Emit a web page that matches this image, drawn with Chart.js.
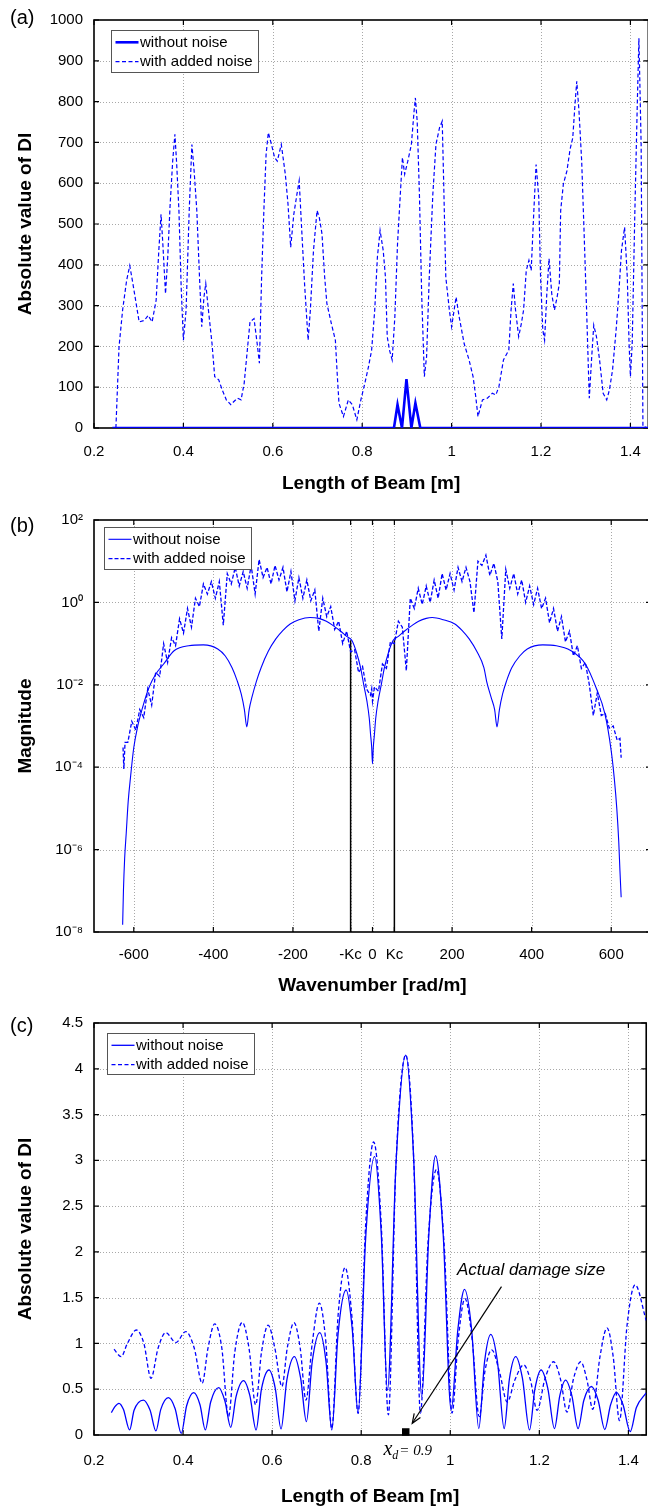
<!DOCTYPE html>
<html>
<head>
<meta charset="utf-8">
<script src="https://cdn.jsdelivr.net/npm/chart.js@4.4.0/dist/chart.umd.min.js"></script>
<style>
html, body { margin: 0; padding: 0; background: #fff; overflow: hidden; width: 648px; height: 1510px; }
.panel { position: absolute; left: 0; }
canvas { display: block; }
</style>
</head>
<body>
<div class="panel" style="top:0px"><canvas id="chartA" width="656" height="500" style="width:656px;height:500px"></canvas></div>
<div class="panel" style="top:500px"><canvas id="chartB" width="656" height="500" style="width:656px;height:500px"></canvas></div>
<div class="panel" style="top:1000px"><canvas id="chartC" width="656" height="510" style="width:656px;height:510px"></canvas></div>
<script>
// ---------------- DATA ----------------
const seriesNames = ['without noise', 'with added noise'];

// Panel (a): damage index vs beam length
const beamTicks = [0.2, 0.4, 0.6, 0.8, 1, 1.2, 1.4];
const beamTickLabels = ['0.2', '0.4', '0.6', '0.8', '1', '1.2', '1.4'];
const diTicksA = [0, 100, 200, 300, 400, 500, 600, 700, 800, 900, 1000];
const diTickLabelsA = ['0', '100', '200', '300', '400', '500', '600', '700', '800', '900', '1000'];

const beamXA_clean = [0.241, 0.871, 0.879, 0.889, 0.899, 0.91, 0.919, 0.93, 1.44];
const diA_clean = [0, 0, 57, 0, 120, 0, 61, 0, 0];

const beamXA_noisy = [0.249,0.256,0.264,0.273,0.28,0.287,0.301,0.313,0.321,0.33,
0.339,0.345,0.35,0.354,0.36,0.365,0.37,0.376,0.381,0.385,
0.39,0.395,0.4,0.406,0.413,0.419,0.424,0.43,0.436,0.441,
0.446,0.45,0.456,0.464,0.47,0.479,0.487,0.496,0.506,0.513,
0.521,0.529,0.536,0.543,0.549,0.558,0.565,0.57,0.575,0.58,
0.585,0.59,0.597,0.604,0.61,0.619,0.628,0.634,0.64,0.647,
0.654,0.659,0.664,0.671,0.679,0.684,0.691,0.699,0.704,0.71,
0.716,0.721,0.731,0.74,0.744,0.748,0.758,0.769,0.778,0.788,
0.797,0.806,0.814,0.821,0.828,0.834,0.84,0.847,0.852,0.856,
0.861,0.867,0.873,0.879,0.884,0.89,0.895,0.902,0.91,0.916,
0.919,0.923,0.928,0.933,0.939,0.944,0.95,0.958,0.965,0.973,
0.979,0.982,0.987,0.995,1.0,1.01,1.017,1.028,1.039,1.048,
1.054,1.059,1.069,1.08,1.091,1.099,1.106,1.116,1.128,1.133,
1.138,1.143,1.15,1.156,1.161,1.167,1.173,1.178,1.184,1.189,
1.195,1.199,1.204,1.208,1.213,1.218,1.224,1.23,1.236,1.241,
1.244,1.25,1.258,1.265,1.271,1.276,1.28,1.285,1.291,1.296,
1.302,1.308,1.313,1.318,1.324,1.331,1.339,1.347,1.353,1.36,
1.368,1.374,1.38,1.387,1.393,1.397,1.4,1.404,1.41,1.415,
1.419,1.424,1.428,1.44];
const diA_noisy = [0,199,289,362,398,354,260,264,276,260,
313,435,524,451,329,419,541,654,720,646,
533,346,215,289,533,695,630,533,370,248,
321,354,289,207,126,118,93,69,57,65,
73,69,110,191,260,268,207,159,370,533,
671,724,695,663,654,695,622,549,443,524,
573,606,500,354,215,289,435,533,516,476,
370,305,256,215,134,61,28,69,57,20,
69,110,150,190,289,419,484,435,370,224,
191,167,272,451,549,663,622,654,695,776,
809,752,573,329,126,175,370,573,695,736,
752,614,370,289,248,321,272,207,167,126,
77,28,69,73,85,81,102,167,191,289,
354,289,224,256,289,386,411,386,533,646,
565,370,240,215,329,415,329,289,321,354,
533,598,630,683,711,793,850,776,654,492,
289,73,167,252,224,167,85,69,93,142,
240,329,435,492,370,207,126,207,533,776,
955,695,4,0];

// Panel (b): wavenumber spectrum
const waveTicks = [-600, -400, -200, -55, 0, 55, 200, 400, 600];
const waveTickLabels = ['-600', '-400', '-200', '-Kc', '0', 'Kc', '200', '400', '600'];
const magTicks = [1e-8, 1e-6, 1e-4, 1e-2, 1, 1e2];
const magTickLabels = ['10\u207B\u2078', '10\u207B\u2076', '10\u207B\u2074', '10\u207B\u00B2', '10\u2070', '10\u00B2'];

const waveX_clean = [-628,-626,-623,-619,-614,-608,-600,-590,-578,-562,-545,-525,-498,-462,-425,-389,-370,-353,-340,-330,-322,-316,-310,-303,-292,-280,-262,-243,-225,-207,-185,-157,-135,-116,-98,-80,-65,-52,-40,-30,-22,-14,-8,-5,-2,0,
2,5,8,14,22,30,40,52,65,80,98,116,135,150,178,207,225,243,262,280,287,298,307,313,319,327,337,350,370,389,428,462,498,535,562,584,600,608,614,619,622,625];
const mag_clean = [1.5e-8,1e-7,6e-7,2.5e-6,1.5e-5,6e-5,3e-4,1e-3,2.8e-3,8.5e-3,0.018,0.032,0.068,0.089,0.093,0.074,0.05,0.026,0.0125,6e-3,2.5e-3,9.5e-4,2.5e-3,5e-3,0.012,0.026,0.065,0.13,0.21,0.3,0.38,0.43,0.41,0.35,0.27,0.2,0.15,0.12,0.06,0.026,0.01,4e-3,1.5e-3,6.5e-4,3e-4,1.2e-4,
3e-4,6.5e-4,1.5e-3,4e-3,0.01,0.026,0.06,0.12,0.15,0.2,0.27,0.35,0.41,0.43,0.38,0.3,0.21,0.13,0.065,0.026,0.012,5e-3,2.5e-3,9.5e-4,2.5e-3,6e-3,0.0125,0.026,0.05,0.074,0.093,0.089,0.068,0.032,8.5e-3,2e-3,2.5e-4,5e-5,1e-5,1.5e-6,3e-7,7e-8];

const waveX_noisy = [-627,-625,-622,-615,-605,-595,-585,-575,-565,-555,-545,-535,-525,-515,-505,-495,-485,-475,-465,-455,-445,-435,-425,-415,-405,-395,-385,-375,-365,-355,-345,-335,-325,-315,-305,-295,-285,-275,-265,-255,-245,-235,-225,-215,-205,-195,-185,-175,-165,-155,-145,-135,-125,-115,-105,-95,-85,-75,-65,-55,-45,-35,-25,-15,-5,-2,0,
5,15,25,35,45,55,65,75,85,95,105,115,125,135,145,155,165,175,185,195,205,215,225,235,245,255,265,275,285,295,305,315,325,335,345,355,365,375,385,395,405,415,425,435,445,455,465,475,485,495,505,515,525,535,545,555,565,575,585,595,605,615,622,625];
const mag_noisy = [3e-4,9e-5,4e-4,4e-4,1.3e-3,8e-4,2.5e-3,1.6e-3,7.9e-3,3.2e-3,0.02,0.016,0.1,0.035,0.14,0.089,0.4,0.18,0.71,0.25,1.26,0.79,2.8,1.6,3.2,1.26,3.2,0.28,5,2.8,7.1,2.5,5.6,2.2,7.9,1.6,11,4,7.1,2.8,7.9,3.5,7.1,1.8,5.6,1.1,4,1.26,3.5,1.1,2,0.2,1.26,0.45,0.79,0.22,0.35,0.1,0.2,0.063,0.071,0.02,0.028,7.9e-3,5.6e-3,8e-3,4e-3,
8.9e-3,7e-3,0.032,0.025,0.11,0.1,0.35,0.25,0.022,1.26,0.71,2.2,0.89,2.5,1.0,3.5,1.26,5,2,5,2,7.1,3.2,7.1,3.2,0.56,10,7.9,14,4.5,8.9,3.2,0.13,6.3,2.2,5,1.6,3.5,1,2.5,0.89,2.2,0.71,1.26,0.32,0.71,0.2,0.45,0.11,0.2,0.05,0.089,0.025,0.035,0.01,1.8e-3,6.3e-3,1.8e-3,2e-3,8.9e-4,1e-3,4.5e-4,5e-4,1.7e-4];

// cut-off wavenumber window edges (-Kc, Kc)
const kcX = [-55, -55, 0, 55, 55];
const kcMag = [1e-8, 0.12, null, 0.12, 1e-8];

// Panel (c): filtered damage index
const diTicksC = [0, 0.5, 1, 1.5, 2, 2.5, 3, 3.5, 4, 4.5];
const diTickLabelsC = ['0', '0.5', '1', '1.5', '2', '2.5', '3', '3.5', '4', '4.5'];

const beamXC_clean = [0.239,0.247,0.256,0.266,0.28,0.29,0.311,0.326,0.339,0.35,
0.367,0.382,0.396,0.408,0.424,0.438,0.45,0.462,0.48,0.494,
0.507,0.519,0.536,0.55,0.564,0.576,0.593,0.607,0.62,0.633,
0.65,0.664,0.677,0.69,0.707,0.721,0.734,0.748,0.766,0.78,
0.793,0.81,0.83,0.845,0.859,0.878,0.9,0.918,0.936,0.952,
0.967,0.984,1.002,1.017,1.032,1.048,1.064,1.077,1.091,1.106,
1.121,1.133,1.147,1.162,1.178,1.19,1.204,1.219,1.234,1.246,
1.259,1.273,1.287,1.3,1.317,1.332,1.347,1.36,1.373,1.388,
1.404,1.418,1.44];
const diC_clean = [0.244,0.31,0.346,0.28,0.055,0.27,0.382,0.27,0.044,0.28,
0.408,0.29,0.018,0.32,0.462,0.33,0.055,0.36,0.517,0.37,
0.084,0.42,0.594,0.43,0.055,0.5,0.71,0.51,0.066,0.6,
0.856,0.62,0.146,0.8,1.118,0.8,0.055,1.1,1.584,1.15,
0.237,2.15,3.04,2.2,0.49,2.95,4.15,3.0,0.42,2.2,
3.05,2.2,0.27,1.15,1.59,1.15,0.07,0.8,1.1,0.8,
0.07,0.62,0.856,0.62,0.055,0.5,0.71,0.51,0.07,0.43,
0.6,0.43,0.07,0.38,0.53,0.38,0.06,0.33,0.466,0.33,
0.036,0.3,0.46];

const beamXC_noisy = [0.245,0.261,0.275,0.295,0.312,0.328,0.344,0.361,0.384,0.406,
0.425,0.443,0.456,0.471,0.487,0.502,0.516,0.533,0.548,0.563,
0.576,0.591,0.606,0.622,0.634,0.649,0.663,0.676,0.69,0.706,
0.72,0.734,0.748,0.764,0.779,0.793,0.81,0.828,0.845,0.861,
0.878,0.9,0.918,0.933,0.95,0.969,0.986,1.004,1.018,1.033,
1.049,1.065,1.078,1.093,1.11,1.128,1.145,1.165,1.18,1.195,
1.213,1.232,1.248,1.262,1.277,1.293,1.307,1.32,1.336,1.352,
1.366,1.38,1.397,1.415,1.44];
const diC_noisy = [0.936,0.856,1.0,1.147,1.0,0.62,0.95,1.118,1.01,1.13,
0.95,0.565,0.95,1.213,0.95,0.2,0.9,1.23,0.95,0.33,
0.9,1.2,0.95,0.53,0.95,1.227,0.95,0.38,1.0,1.44,
1.05,0.07,1.3,1.83,1.3,0.237,2.3,3.2,2.3,0.22,
2.95,4.15,3.0,0.24,2.1,2.9,2.1,0.24,1.05,1.49,
1.05,0.2,0.7,0.93,0.7,0.36,0.6,0.765,0.6,0.27,
0.62,0.8,0.6,0.25,0.62,0.8,0.6,0.28,0.85,1.17,
0.85,0.157,1.2,1.64,1.25];

const damageX = [0.9];
const damageY = [0.033];
const damageText = 'Actual damage size';

// ---------------- STYLE / HELPERS ----------------
const BLUE = '#0000ff';
const SANS = "'Liberation Sans', Arial, Helvetica, sans-serif";
const SERIF = "'Liberation Serif', 'Times New Roman', serif";
Chart.defaults.font.family = SANS;
Chart.defaults.font.size = 15;
Chart.defaults.color = '#000';

function xy(xs, ys) { return xs.map((x, i) => ({ x: x, y: ys[i] })); }
function fixedTicks(values) { return function (scale) { scale.ticks = values.map(v => ({ value: v })); }; }

const matlabAxes = {
  id: 'matlabAxes',
  beforeDatasetsDraw(chart, args, o) {
    const { ctx, chartArea: a } = chart;
    const xs = chart.scales.x, ys = chart.scales.y;
    ctx.save();
    // dotted grid
    ctx.strokeStyle = '#a8a8a8';
    ctx.lineWidth = 1;
    ctx.setLineDash([1, 2]);
    xs.ticks.forEach(t => {
      const p = Math.round(xs.getPixelForValue(t.value)) + 0.5;
      if (p > a.left + 1 && p < a.right - 1) {
        ctx.beginPath(); ctx.moveTo(p, a.top); ctx.lineTo(p, a.bottom); ctx.stroke();
      }
    });
    ys.ticks.forEach(t => {
      const p = Math.round(ys.getPixelForValue(t.value)) + 0.5;
      if (p > a.top + 1 && p < a.bottom - 1) {
        ctx.beginPath(); ctx.moveTo(a.left, p); ctx.lineTo(a.right, p); ctx.stroke();
      }
    });
    ctx.setLineDash([]);
    // frame
    ctx.strokeStyle = '#000';
    ctx.lineWidth = 1.6;
    ctx.strokeRect(a.left, a.top, a.right - a.left, a.bottom - a.top);
    // inward ticks
    ctx.lineWidth = 1.2;
    const tl = 5;
    ctx.beginPath();
    xs.ticks.forEach(t => {
      const p = xs.getPixelForValue(t.value);
      ctx.moveTo(p, a.bottom); ctx.lineTo(p, a.bottom - tl);
      ctx.moveTo(p, a.top); ctx.lineTo(p, a.top + tl);
    });
    ys.ticks.forEach(t => {
      const p = ys.getPixelForValue(t.value);
      ctx.moveTo(a.left, p); ctx.lineTo(a.left + tl, p);
      ctx.moveTo(a.right, p); ctx.lineTo(a.right - tl, p);
    });
    ctx.stroke();
    ctx.restore();
  },
  afterDatasetsDraw(chart, args, o) {
    const { ctx, chartArea: a } = chart;
    ctx.save();
    // legend box
    const lb = o.legendBox;
    const L = Math.round(a.left + lb.dx) + 0.5, T = Math.round(a.top + lb.dy) + 0.5;
    ctx.fillStyle = '#fff';
    ctx.fillRect(L, T, lb.w, lb.h);
    ctx.strokeStyle = '#555';
    ctx.lineWidth = 1;
    ctx.strokeRect(L, T, lb.w, lb.h);
    chart.data.datasets.slice(0, 2).forEach((ds, i) => {
      const cy = T + 11.8 + i * 19.3;
      ctx.strokeStyle = ds.borderColor;
      ctx.lineWidth = ds.borderWidth;
      ctx.setLineDash(ds.borderDash || []);
      ctx.beginPath(); ctx.moveTo(L + 4, cy); ctx.lineTo(L + 27, cy); ctx.stroke();
      ctx.setLineDash([]);
      ctx.fillStyle = '#000';
      ctx.font = '15px ' + SANS;
      ctx.textAlign = 'left';
      ctx.textBaseline = 'middle';
      ctx.fillText(ds.label, L + 28.5, cy + 0.5);
    });
    // axis titles
    ctx.fillStyle = '#000';
    ctx.font = 'bold 19px ' + SANS;
    ctx.textAlign = 'center';
    ctx.textBaseline = 'middle';
    ctx.fillText(o.xTitle, (a.left + a.right) / 2, a.bottom + o.xTitleDy);
    ctx.save();
    ctx.translate(26, (a.top + a.bottom) / 2);
    ctx.rotate(-Math.PI / 2);
    ctx.fillText(o.yTitle, 0, 0);
    ctx.restore();
    // panel label
    ctx.font = '20px ' + SANS;
    ctx.textAlign = 'left';
    ctx.fillText(o.panel, 10, o.panelY);
    ctx.restore();
  }
};

function baseOptions(extra) {
  return Object.assign({
    responsive: false,
    animation: false,
    devicePixelRatio: 1,
    events: [],
    elements: { point: { radius: 0 }, line: { tension: 0 } },
  }, extra);
}

// ---------------- PANEL (a) ----------------
new Chart(document.getElementById('chartA'), {
  type: 'line',
  data: {
    datasets: [
      { label: seriesNames[0], data: xy(beamXA_clean, diA_clean), borderColor: BLUE, borderWidth: 2.6, pointRadius: 0 },
      { label: seriesNames[1], data: xy(beamXA_noisy, diA_noisy), borderColor: BLUE, borderWidth: 1.2, borderDash: [4, 2.5], pointRadius: 0 }
    ]
  },
  options: baseOptions({
    layout: { padding: { top: 18, right: 5, bottom: 0, left: 0 } },
    scales: {
      x: {
        type: 'linear', min: 0.2, max: 1.44,
        afterBuildTicks: fixedTicks(beamTicks),
        afterFit: s => { s.height = 72; },
        grid: { display: false, drawTicks: false }, border: { display: false },
        ticks: { autoSkip: false, maxRotation: 0, padding: 15, callback: (v, i) => beamTickLabels[i] }
      },
      y: {
        type: 'linear', min: 0, max: 1000,
        afterBuildTicks: fixedTicks(diTicksA),
        afterFit: s => { s.width = 94; },
        grid: { display: false, drawTicks: false }, border: { display: false },
        ticks: { autoSkip: false, padding: 11, callback: (v, i) => diTickLabelsA[i] }
      }
    },
    plugins: {
      legend: { display: false }, tooltip: { enabled: false },
      matlabAxes: { legendBox: { dx: 17, dy: 10, w: 147, h: 42 }, xTitle: 'Length of Beam [m]', yTitle: 'Absolute value of DI', xTitleDy: 56, panel: '(a)', panelY: 18 }
    }
  }),
  plugins: [matlabAxes]
});

// ---------------- PANEL (b) ----------------
new Chart(document.getElementById('chartB'), {
  type: 'line',
  data: {
    datasets: [
      { label: seriesNames[0], data: xy(waveX_clean, mag_clean), borderColor: BLUE, borderWidth: 1.1, pointRadius: 0, cubicInterpolationMode: 'monotone' },
      { label: seriesNames[1], data: xy(waveX_noisy, mag_noisy), borderColor: BLUE, borderWidth: 1.3, borderDash: [4, 2], pointRadius: 0 },
      { label: 'Kc window', data: xy(kcX, kcMag), borderColor: '#000', borderWidth: 1.5, pointRadius: 0, spanGaps: false }
    ]
  },
  options: baseOptions({
    layout: { padding: { top: 19, right: 5, bottom: 0, left: 0 } },
    scales: {
      x: {
        type: 'linear', min: -700, max: 700,
        afterBuildTicks: fixedTicks(waveTicks),
        afterFit: s => { s.height = 68; },
        grid: { display: false, drawTicks: false }, border: { display: false },
        ticks: { autoSkip: false, maxRotation: 0, padding: 14, callback: (v, i) => waveTickLabels[i] }
      },
      y: {
        type: 'logarithmic', min: 1e-8, max: 1e2,
        afterBuildTicks: fixedTicks(magTicks),
        afterFit: s => { s.width = 94; },
        grid: { display: false, drawTicks: false }, border: { display: false },
        ticks: { autoSkip: false, padding: 11, callback: (v, i) => magTickLabels[i] }
      }
    },
    plugins: {
      legend: { display: false }, tooltip: { enabled: false },
      matlabAxes: { legendBox: { dx: 9.5, dy: 7, w: 147, h: 42 }, xTitle: 'Wavenumber [rad/m]', yTitle: 'Magnitude', xTitleDy: 54, panel: '(b)', panelY: 26 }
    }
  }),
  plugins: [matlabAxes]
});

// ---------------- PANEL (c) ----------------
const damageAnnot = {
  id: 'damageAnnot',
  afterDatasetsDraw(chart) {
    const { ctx, chartArea: a } = chart;
    const xs = chart.scales.x, ys = chart.scales.y;
    ctx.save();
    // arrow from label to damage location
    const x1 = xs.getPixelForValue(1.115), y1 = ys.getPixelForValue(1.62);
    const x2 = xs.getPixelForValue(0.9146), y2 = ys.getPixelForValue(0.128);
    ctx.strokeStyle = '#000';
    ctx.lineWidth = 1.2;
    ctx.beginPath(); ctx.moveTo(x1, y1); ctx.lineTo(x2, y2); ctx.stroke();
    const ang = Math.atan2(y2 - y1, x2 - x1);
    const hl = 10, ha = 0.38;
    ctx.beginPath();
    ctx.moveTo(x2 - hl * Math.cos(ang - ha), y2 - hl * Math.sin(ang - ha));
    ctx.lineTo(x2, y2);
    ctx.lineTo(x2 - hl * Math.cos(ang + ha), y2 - hl * Math.sin(ang + ha));
    ctx.stroke();
    // label text
    ctx.fillStyle = '#000';
    ctx.font = 'italic 17px ' + SANS;
    ctx.textAlign = 'left';
    ctx.textBaseline = 'alphabetic';
    ctx.fillText(damageText, xs.getPixelForValue(1.015), ys.getPixelForValue(1.747));
    // x_d = 0.9 label under the axis
    const bx = xs.getPixelForValue(0.85), by = a.bottom + 20;
    ctx.font = 'italic 20px ' + SERIF;
    ctx.fillText('x', bx, by);
    let w = ctx.measureText('x').width;
    ctx.font = 'italic 12px ' + SERIF;
    ctx.fillText('d', bx + w, by + 4);
    w += ctx.measureText('d').width + 1;
    ctx.font = 'italic 15px ' + SERIF;
    ctx.fillText('= 0.9', bx + w, by);
    ctx.restore();
  }
};

new Chart(document.getElementById('chartC'), {
  type: 'line',
  data: {
    datasets: [
      { label: seriesNames[0], data: xy(beamXC_clean, diC_clean), borderColor: BLUE, borderWidth: 1.3, pointRadius: 0, cubicInterpolationMode: 'monotone' },
      { label: seriesNames[1], data: xy(beamXC_noisy, diC_noisy), borderColor: BLUE, borderWidth: 1.3, borderDash: [4, 2.5], pointRadius: 0, cubicInterpolationMode: 'monotone' },
      { label: 'damage location', data: xy(damageX, damageY), showLine: false, pointStyle: 'rect', pointRadius: 5.3, backgroundColor: '#000', borderColor: '#000', borderWidth: 0, clip: false }
    ]
  },
  options: baseOptions({
    layout: { padding: { top: 23, right: 5, bottom: 0, left: 0 } },
    scales: {
      x: {
        type: 'linear', min: 0.2, max: 1.44,
        afterBuildTicks: fixedTicks(beamTicks),
        afterFit: s => { s.height = 75; },
        grid: { display: false, drawTicks: false }, border: { display: false },
        ticks: { autoSkip: false, maxRotation: 0, padding: 17, callback: (v, i) => beamTickLabels[i] }
      },
      y: {
        type: 'linear', min: 0, max: 4.5,
        afterBuildTicks: fixedTicks(diTicksC),
        afterFit: s => { s.width = 94; },
        grid: { display: false, drawTicks: false }, border: { display: false },
        ticks: { autoSkip: false, padding: 11, callback: (v, i) => diTickLabelsC[i] }
      }
    },
    plugins: {
      legend: { display: false }, tooltip: { enabled: false },
      matlabAxes: { legendBox: { dx: 12.7, dy: 9.7, w: 147, h: 41 }, xTitle: 'Length of Beam [m]', yTitle: 'Absolute value of DI', xTitleDy: 62, panel: '(c)', panelY: 26 }
    }
  }),
  plugins: [matlabAxes, damageAnnot]
});
</script>
</body>
</html>
